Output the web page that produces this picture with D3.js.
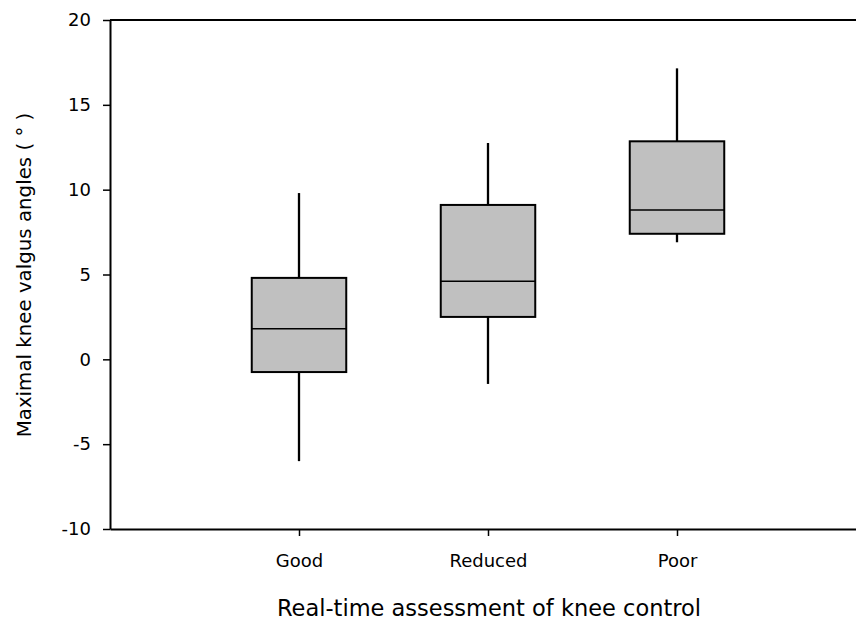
<!DOCTYPE html>
<html>
<head>
<meta charset="utf-8">
<script src="https://cdn.jsdelivr.net/npm/d3@7"></script>
<style>
	body { margin: 0; background: #fff; }
	svg { display: block; font-family: "DejaVu Sans", Verdana, sans-serif; }
</style>
</head>
<body>
<svg id="chart" width="856" height="620"></svg>
<script>
// box plot summary per group
var categories = [ 'Good', 'Reduced', 'Poor' ];
var whiskerLow = [ -6.0, -1.45, 6.9 ];
var q1 = [ -0.75, 2.5, 7.4 ];
var median = [ 1.8, 4.6, 8.8 ];
var q3 = [ 4.8, 9.1, 12.85 ];
var whiskerHigh = [ 9.8, 12.75, 17.15 ];
var yTicks = [ -10, -5, 0, 5, 10, 15, 20 ];

var svg = d3.select( '#chart' );

var plotLeft = 110, plotRight = 866, plotTop = 20, plotBottom = 529;

var x = d3.scaleLinear()
	.domain( [ 0, categories.length + 1 ] )
	.range( [ plotLeft, plotRight ] );

var y = d3.scaleLinear()
	.domain( [ -10, 20 ] )
	.range( [ plotBottom, plotTop ] );

var boxWidth = ( x( 1 ) - x( 0 ) ) / 2;

var groups = categories.map( function ( c, i ) {
	return { name: c, pos: i + 1, lo: whiskerLow[i], q1: q1[i], med: median[i], q3: q3[i], hi: whiskerHigh[i] };
} );

// top frame line
svg.append( 'line' )
	.attr( 'x1', plotLeft ).attr( 'x2', plotRight )
	.attr( 'y1', y( 20 ) ).attr( 'y2', y( 20 ) )
	.attr( 'stroke', '#000' ).attr( 'stroke-width', 2 );

// y axis (plain hyphen for negatives, like the original)
var yAxis = svg.append( 'g' )
	.attr( 'transform', 'translate(' + plotLeft + ',0)' )
	.call( d3.axisLeft( y ).tickValues( yTicks )
		.tickFormat( function ( d ) { return String( d ); } )
		.tickSize( 7 ).tickSizeOuter( 0 ).tickPadding( 12 ) );
yAxis.select( '.domain' ).attr( 'stroke-width', 2 );
yAxis.selectAll( '.tick line' ).attr( 'stroke-width', 1.5 );
yAxis.selectAll( '.tick text' )
	.style( 'font-size', '18px' )
	.style( 'font-family', '"DejaVu Sans", Verdana, sans-serif' )
	.attr( 'fill', '#000' );

// x axis
var xAxis = svg.append( 'g' )
	.attr( 'transform', 'translate(0,' + plotBottom + ')' )
	.call( d3.axisBottom( x ).tickValues( groups.map( function ( d ) { return d.pos; } ) )
		.tickFormat( function ( d ) { return categories[d - 1]; } )
		.tickSize( 7 ).tickSizeOuter( 0 ).tickPadding( 18 ) );
xAxis.select( '.domain' ).attr( 'stroke-width', 2 );
xAxis.selectAll( '.tick line' ).attr( 'stroke-width', 1.5 );
xAxis.selectAll( '.tick text' )
	.style( 'font-size', '18px' )
	.style( 'font-family', '"DejaVu Sans", Verdana, sans-serif' )
	.attr( 'fill', '#000' );

// boxes
var box = svg.selectAll( '.box' )
	.data( groups )
	.enter()
	.append( 'g' )
	.classed( 'box', true );

box.append( 'line' )
	.attr( 'x1', function ( d ) { return x( d.pos ); } )
	.attr( 'x2', function ( d ) { return x( d.pos ); } )
	.attr( 'y1', function ( d ) { return y( d.hi ); } )
	.attr( 'y2', function ( d ) { return y( d.q3 ); } )
	.attr( 'stroke', '#000' ).attr( 'stroke-width', 2.3 );

box.append( 'line' )
	.attr( 'x1', function ( d ) { return x( d.pos ); } )
	.attr( 'x2', function ( d ) { return x( d.pos ); } )
	.attr( 'y1', function ( d ) { return y( d.q1 ); } )
	.attr( 'y2', function ( d ) { return y( d.lo ); } )
	.attr( 'stroke', '#000' ).attr( 'stroke-width', 2.3 );

box.append( 'rect' )
	.attr( 'x', function ( d ) { return x( d.pos ) - boxWidth / 2; } )
	.attr( 'y', function ( d ) { return y( d.q3 ); } )
	.attr( 'width', boxWidth )
	.attr( 'height', function ( d ) { return y( d.q1 ) - y( d.q3 ); } )
	.attr( 'fill', '#c0c0c0' )
	.attr( 'stroke', '#000' ).attr( 'stroke-width', 2 );

box.append( 'line' )
	.attr( 'x1', function ( d ) { return x( d.pos ) - boxWidth / 2; } )
	.attr( 'x2', function ( d ) { return x( d.pos ) + boxWidth / 2; } )
	.attr( 'y1', function ( d ) { return y( d.med ); } )
	.attr( 'y2', function ( d ) { return y( d.med ); } )
	.attr( 'stroke', '#000' ).attr( 'stroke-width', 1.5 );

// axis titles
svg.append( 'text' )
	.attr( 'x', 489 )
	.attr( 'y', 616 )
	.attr( 'text-anchor', 'middle' )
	.style( 'font-size', '22.5px' )
	.text( 'Real-time assessment of knee control' );

svg.append( 'text' )
	.attr( 'transform', 'translate(31,275) rotate(-90)' )
	.attr( 'text-anchor', 'middle' )
	.style( 'font-size', '19.8px' )
	.text( 'Maximal knee valgus angles ( \u00b0 )' );
</script>
</body>
</html>
